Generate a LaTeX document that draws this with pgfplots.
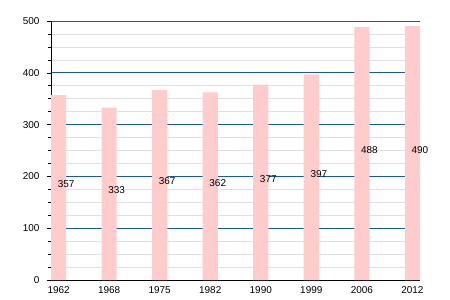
\documentclass[border=0pt]{standalone}
\usepackage{pgfplots}
\pgfplotsset{compat=1.18}
\usepackage{pgfplotstable}
\usepackage{fontspec}
\setmainfont{Liberation Sans}
\definecolor{barpink}{RGB}{255,204,204}
\definecolor{majgrid}{RGB}{25,90,160}
\definecolor{mingrid}{RGB}{224,224,224}
\pgfplotstableread{
x y half
0 357 178.5
1 333 166.5
2 367 183.5
3 362 181
4 377 188.5
5 397 198.5
6 488 244
7 490 245
}\datatable
\begin{document}
\begin{tikzpicture}
\path[use as bounding box] (-51bp,-20bp) rectangle (399bp,280bp);
\begin{axis}[
  at={(0,0)}, anchor=south west,
  scale only axis, width=369bp, height=259bp,
  xmin=-0.15, xmax=7.15, ymin=0, ymax=500,
  axis x line=bottom, axis y line=left,
  axis line style={-, black, line width=0.9pt},
  xtick={0,...,7},
  xticklabels={1962,1968,1975,1982,1990,1999,2006,2012},
  x tick style={draw=none},
  ytick={0,100,...,500},
  minor y tick num=3,
  tick align=outside,
  major tick length=4bp, minor tick length=3bp,
  y tick style={black, line width=0.6pt},
  ymajorgrids, yminorgrids,
  major grid style={majgrid, line width=0.7pt},
  minor grid style={mingrid, line width=0.6pt},
  tick label style={font=\fontsize{10}{12}\selectfont},
  /pgf/number format/assume math mode=true,
  yticklabel style={xshift=-4bp},
  xticklabel style={yshift=1bp},
  clip=false,
]
\addplot[ybar, bar width=0.3, bar shift=0pt, fill=barpink, draw=none] table[x=x, y=y] {\datatable};
\addplot[draw=none, mark=none, nodes near coords, point meta=explicit,
  nodes near coords style={anchor=base west, inner sep=0pt, xshift=-1bp, font=\fontsize{10}{12}\selectfont}]
  table[x=x, y=half, meta=y] {\datatable};
\end{axis}
\end{tikzpicture}
\end{document}
